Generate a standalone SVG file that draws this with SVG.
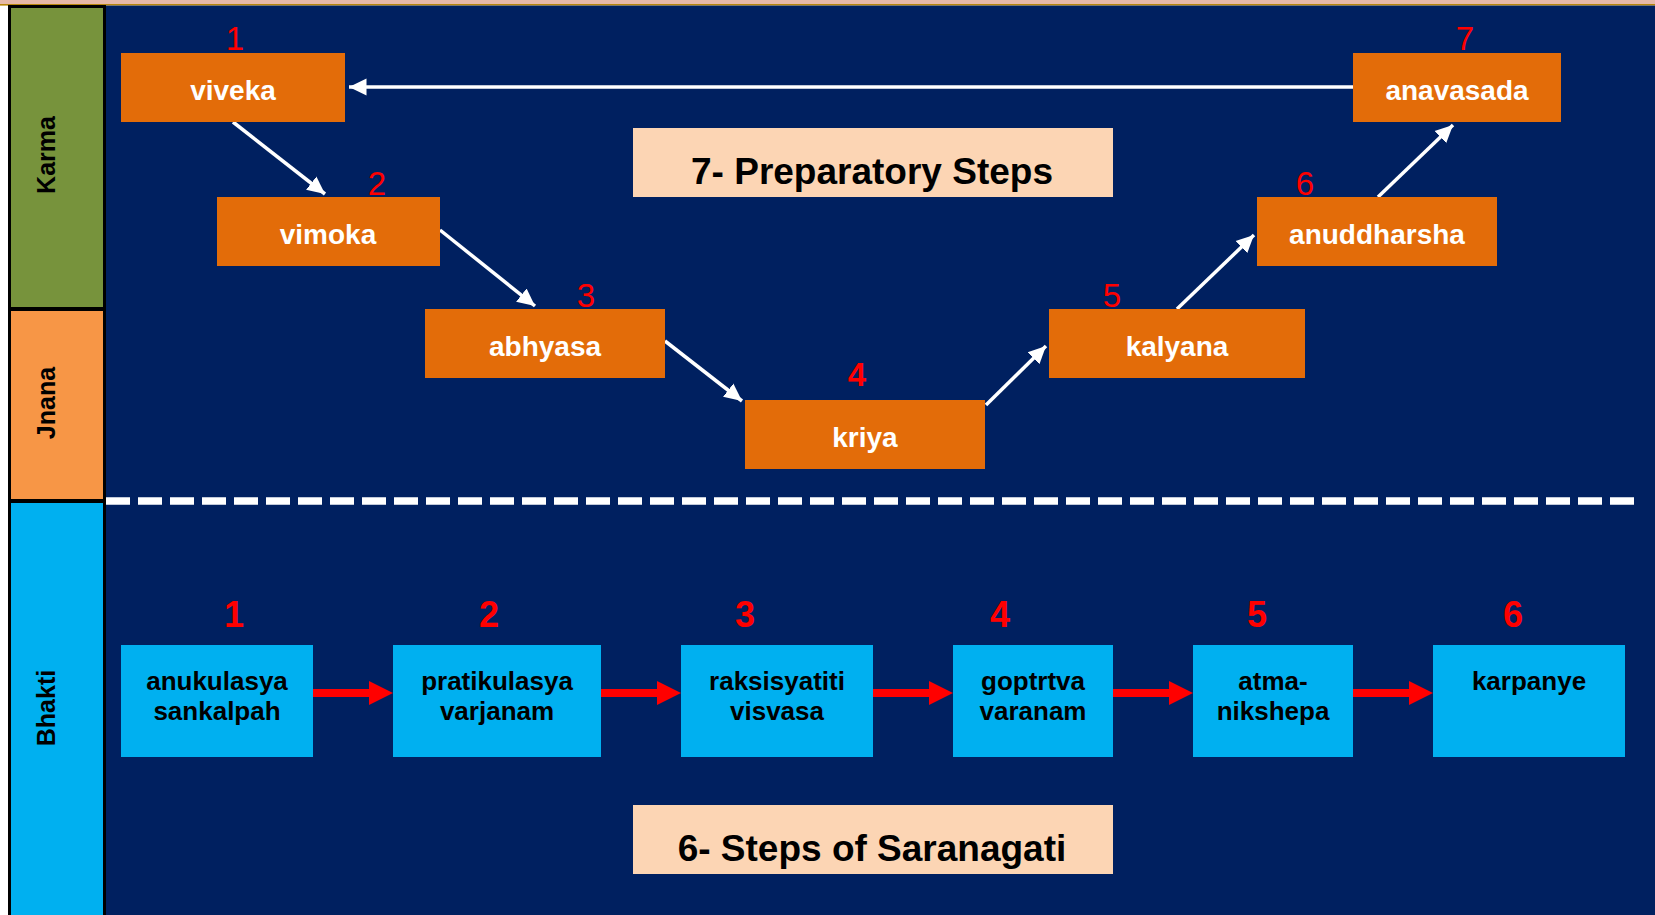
<svg xmlns="http://www.w3.org/2000/svg" width="1655" height="915" viewBox="0 0 1655 915">
<style>
.onode{fill:#E36C09}
.bnode{fill:#00B0F0}
.title{fill:#FCD5B4}
.otext{font-family:"Liberation Sans",Arial,sans-serif;font-weight:bold;font-size:28px;fill:#FFFFFF;text-anchor:middle}
.btext{font-family:"Liberation Sans",Arial,sans-serif;font-weight:bold;font-size:26px;fill:#000000;text-anchor:middle}
.ttext{font-family:"Liberation Sans",Arial,sans-serif;font-weight:bold;font-size:37px;fill:#000000;text-anchor:middle}
.num{font-family:"Liberation Sans",Arial,sans-serif;font-size:33px;fill:#FF0000;text-anchor:middle}
.numb{font-family:"Liberation Sans",Arial,sans-serif;font-weight:bold;font-size:36px;fill:#FF0000;text-anchor:middle}
.side{font-family:"Liberation Sans",Arial,sans-serif;font-weight:bold;font-size:25px;fill:#000000;text-anchor:middle}
.warrow{stroke:#FFFFFF;stroke-width:3.5;fill:none;marker-end:url(#wh)}
.rarrow{stroke:#FF0000;stroke-width:8;fill:none}
.rhead{fill:#FF0000}
</style>
<defs>
<marker id="wh" markerWidth="6" markerHeight="6" refX="5" refY="3" orient="auto" markerUnits="strokeWidth" viewBox="0 0 6 6">
<path d="M0,0.6 L5,3 L0,5.4 Z" fill="#FFFFFF"/>
</marker>
</defs>
<rect x="0" y="0" width="1655" height="915" fill="#FFFFFF"/>
<rect x="0" y="0" width="1655" height="4" fill="#E6B9A8"/>
<rect x="0" y="4" width="1655" height="1.6" fill="#B8860B"/>
<rect x="106" y="5.6" width="1549" height="910" fill="#002060"/>
<g id="lanes">
<g id="lane-karma">
<rect x="9.5" y="6.5" width="95" height="302" fill="#77933C" stroke="#000000" stroke-width="3"/>
<text class="side" transform="translate(55,155) rotate(-90)">Karma</text>
</g>
<g id="lane-jnana">
<rect x="9.5" y="309.5" width="95" height="191" fill="#F79646" stroke="#000000" stroke-width="3"/>
<text class="side" transform="translate(55,403) rotate(-90)">Jnana</text>
</g>
<g id="lane-bhakti">
<rect x="9.5" y="501.5" width="95" height="415" fill="#00B0F0" stroke="#000000" stroke-width="3"/>
<text class="side" transform="translate(55,708) rotate(-90)">Bhakti</text>
</g>
</g>
<line x1="106" y1="501" x2="1640" y2="501" stroke="#FFFFFF" stroke-width="7.5" stroke-dasharray="24 8"/>
<g id="connectors">
<line class="warrow" x1="233" y1="122" x2="325" y2="194"/>
<line class="warrow" x1="440" y1="230" x2="535" y2="306"/>
<line class="warrow" x1="665" y1="341" x2="742" y2="401"/>
<line class="warrow" x1="986" y1="405" x2="1046" y2="346"/>
<line class="warrow" x1="1177" y1="309" x2="1254" y2="235"/>
<line class="warrow" x1="1378" y1="197" x2="1453" y2="125"/>
<line class="warrow" x1="1353" y1="87" x2="349" y2="87"/>
<line class="rarrow" x1="313" y1="693" x2="371" y2="693"/>
<path class="rhead" d="M369,681 L393,693 L369,705 Z"/>
<line class="rarrow" x1="601" y1="693" x2="659" y2="693"/>
<path class="rhead" d="M657,681 L681,693 L657,705 Z"/>
<line class="rarrow" x1="873" y1="693" x2="931" y2="693"/>
<path class="rhead" d="M929,681 L953,693 L929,705 Z"/>
<line class="rarrow" x1="1113" y1="693" x2="1171" y2="693"/>
<path class="rhead" d="M1169,681 L1193,693 L1169,705 Z"/>
<line class="rarrow" x1="1353" y1="693" x2="1411" y2="693"/>
<path class="rhead" d="M1409,681 L1433,693 L1409,705 Z"/>
</g>
<g id="title-prep">
<rect class="title" x="633" y="128" width="480" height="69"/>
<text class="ttext" x="872" y="184">7- Preparatory Steps</text>
</g>
<g id="title-saranagati">
<rect class="title" x="633" y="805" width="480" height="69"/>
<text class="ttext" x="872" y="861">6- Steps of Saranagati</text>
</g>
<g id="n-viveka">
<rect class="onode" x="121" y="53" width="224" height="69"/>
<text class="otext" x="233" y="100">viveka</text>
<text class="num" x="235" y="50">1</text>
</g>
<g id="n-vimoka">
<rect class="onode" x="217" y="197" width="223" height="69"/>
<text class="otext" x="328" y="244">vimoka</text>
<text class="num" x="377" y="195">2</text>
</g>
<g id="n-abhyasa">
<rect class="onode" x="425" y="309" width="240" height="69"/>
<text class="otext" x="545" y="356">abhyasa</text>
<text class="num" x="586" y="307">3</text>
</g>
<g id="n-kriya">
<rect class="onode" x="745" y="400" width="240" height="69"/>
<text class="otext" x="865" y="447">kriya</text>
<text class="numb" x="857" y="386" style="font-size:33px">4</text>
</g>
<g id="n-kalyana">
<rect class="onode" x="1049" y="309" width="256" height="69"/>
<text class="otext" x="1177" y="356">kalyana</text>
<text class="num" x="1112" y="307">5</text>
</g>
<g id="n-anuddharsha">
<rect class="onode" x="1257" y="197" width="240" height="69"/>
<text class="otext" x="1377" y="244">anuddharsha</text>
<text class="num" x="1305" y="195">6</text>
</g>
<g id="n-anavasada">
<rect class="onode" x="1353" y="53" width="208" height="69"/>
<text class="otext" x="1457" y="100">anavasada</text>
<text class="num" x="1465" y="50">7</text>
</g>
<g id="b-anukulasya">
<rect class="bnode" x="121" y="645" width="192" height="112"/>
<text class="btext" x="217" y="690">anukulasya</text>
<text class="btext" x="217" y="720">sankalpah</text>
<text class="numb" x="234" y="627">1</text>
</g>
<g id="b-pratikulasya">
<rect class="bnode" x="393" y="645" width="208" height="112"/>
<text class="btext" x="497" y="690">pratikulasya</text>
<text class="btext" x="497" y="720">varjanam</text>
<text class="numb" x="489" y="627">2</text>
</g>
<g id="b-raksisyatiti">
<rect class="bnode" x="681" y="645" width="192" height="112"/>
<text class="btext" x="777" y="690">raksisyatiti</text>
<text class="btext" x="777" y="720">visvasa</text>
<text class="numb" x="745" y="627">3</text>
</g>
<g id="b-goptrtva">
<rect class="bnode" x="953" y="645" width="160" height="112"/>
<text class="btext" x="1033" y="690">goptrtva</text>
<text class="btext" x="1033" y="720">varanam</text>
<text class="numb" x="1000" y="627">4</text>
</g>
<g id="b-atma">
<rect class="bnode" x="1193" y="645" width="160" height="112"/>
<text class="btext" x="1273" y="690">atma-</text>
<text class="btext" x="1273" y="720">nikshepa</text>
<text class="numb" x="1257" y="627">5</text>
</g>
<g id="b-karpanye">
<rect class="bnode" x="1433" y="645" width="192" height="112"/>
<text class="btext" x="1529" y="690">karpanye</text>
<text class="numb" x="1513" y="627">6</text>
</g>
</svg>
